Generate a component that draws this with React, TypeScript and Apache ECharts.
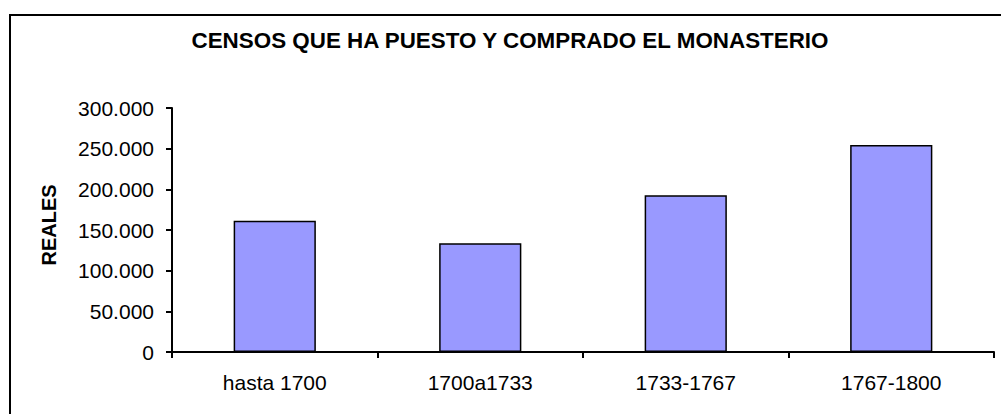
import React, { useEffect, useRef } from "react";
import * as echarts from "echarts";

const categories = ["hasta 1700", "1700a1733", "1733-1767", "1767-1800"];
const reales = [161500, 133600, 192700, 254500];
const titleText = "CENSOS QUE HA PUESTO Y COMPRADO EL MONASTERIO";
const yAxisName = "REALES";
const yMax = 300000;
const yStep = 50000;

const FONT = '"Liberation Sans", Arial, sans-serif';

function fmt(v: number): string {
  if (v === 0) return "0";
  const s = String(Math.round(v));
  return s.replace(/\B(?=(\d{3})+(?!\d))/g, ".");
}

export default function App() {
  const ref = useRef<HTMLDivElement>(null);
  useEffect(() => {
    if (!ref.current) return;
    const chart = echarts.init(ref.current, undefined, { renderer: "svg" });
    chart.setOption({
      animation: false,
      backgroundColor: "#ffffff",
      title: {
        text: titleText,
        left: 505,
        top: 24,
        textAlign: "center",
        textStyle: { fontFamily: FONT, fontSize: 22.4, fontWeight: "bold", color: "#000" },
      },
      graphic: [
        {
          type: "rect",
          shape: { x: 10, y: 15, width: 1100, height: 500 },
          style: { fill: "none", stroke: "#000", lineWidth: 2 },
          silent: true,
        },
      ],
      grid: { left: 172, right: 7, top: 108, bottom: 62, containLabel: false },
      xAxis: {
        type: "category",
        data: categories,
        boundaryGap: true,
        axisLine: { show: true, lineStyle: { color: "#000", width: 2 } },
        axisTick: { show: true, inside: false, length: 6, lineStyle: { color: "#000", width: 2 } },
        axisLabel: { color: "#000", fontFamily: FONT, fontSize: 21, margin: 20 },
        splitLine: { show: false },
      },
      yAxis: {
        type: "value",
        min: 0,
        max: yMax,
        interval: yStep,
        name: yAxisName,
        nameLocation: "middle",
        nameGap: 113,
        nameRotate: 90,
        nameTextStyle: { fontFamily: FONT, fontSize: 20, fontWeight: "bold", color: "#000", padding: [0, 0, 0, 10] },
        axisLine: { show: true, lineStyle: { color: "#000", width: 2 } },
        axisTick: { show: true, inside: false, length: 6, lineStyle: { color: "#000", width: 2 } },
        axisLabel: { color: "#000", fontFamily: FONT, fontSize: 21, margin: 18, formatter: (v: number) => fmt(v) },
        splitLine: { show: false },
      },
      series: [
        {
          type: "bar",
          data: reales,
          barWidth: "40%",
          itemStyle: { color: "#9999FF", borderColor: "#000", borderWidth: 1.5 },
        },
      ],
    });
    return () => chart.dispose();
  }, []);
  return (
    <div
      ref={ref}
      style={{ position: "fixed", left: 0, top: 0, width: 1001, height: 414, background: "#fff" }}
    />
  );
}
